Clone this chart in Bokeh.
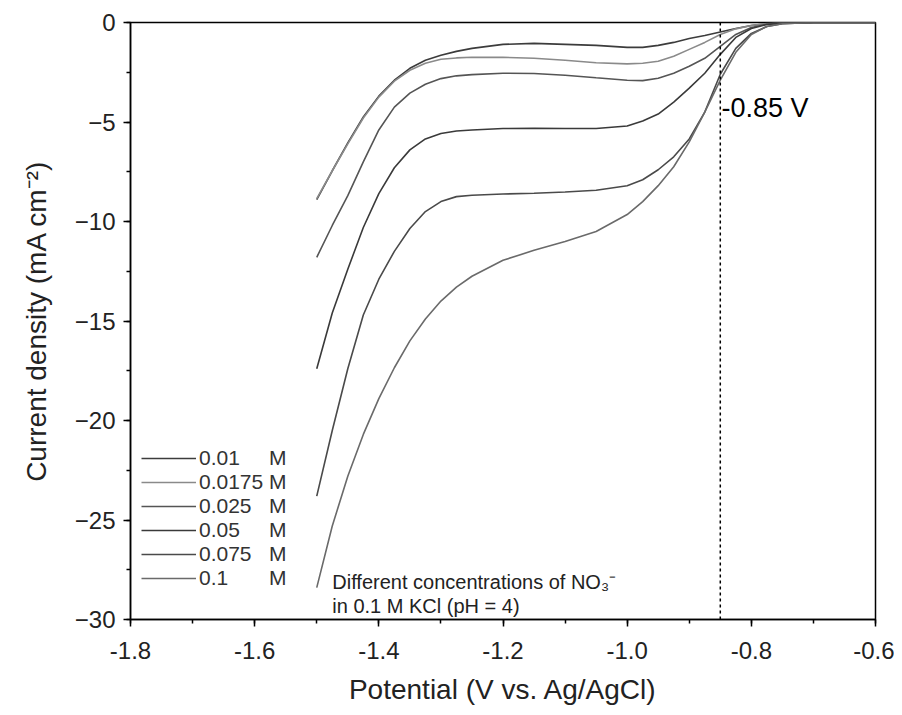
from bokeh.plotting import figure
from bokeh.models import (Legend, LegendItem, Span, Label, SingleIntervalTicker,
                          NumeralTickFormatter)
from bokeh.embed import file_html
from bokeh.resources import INLINE

# ---- data ----
potential = [-1.5, -1.475, -1.45, -1.425, -1.4, -1.375, -1.35, -1.325, -1.3, -1.275,
             -1.25, -1.2, -1.15, -1.1, -1.05, -1.0, -0.975, -0.95, -0.925, -0.9,
             -0.875, -0.85, -0.825, -0.8, -0.775, -0.75, -0.7, -0.65, -0.6]

j_0p01 = [-8.9, -7.45, -6.05, -4.75, -3.7, -2.9, -2.3, -1.9, -1.65, -1.45,
          -1.3, -1.1, -1.05, -1.1, -1.15, -1.25, -1.25, -1.15, -1.0, -0.8,
          -0.65, -0.48, -0.3, -0.15, -0.06, -0.02, 0.0, 0.0, 0.0]
j_0p0175 = [-8.85, -7.45, -6.1, -4.8, -3.75, -2.95, -2.4, -2.05, -1.85, -1.78,
            -1.75, -1.75, -1.8, -1.9, -2.02, -2.08, -2.05, -1.95, -1.7, -1.35,
            -1.0, -0.6, -0.32, -0.15, -0.05, -0.02, 0.0, 0.0, 0.0]
j_0p025 = [-11.8, -10.2, -8.7, -7.0, -5.4, -4.25, -3.55, -3.1, -2.82, -2.68,
           -2.62, -2.55, -2.56, -2.65, -2.78, -2.9, -2.92, -2.8, -2.55, -2.2,
           -1.8, -1.2, -0.6, -0.25, -0.08, -0.03, 0.0, 0.0, 0.0]
j_0p05 = [-17.4, -14.6, -12.4, -10.3, -8.6, -7.3, -6.4, -5.85, -5.58, -5.45,
          -5.4, -5.33, -5.32, -5.33, -5.33, -5.2, -4.95, -4.6, -4.0, -3.3,
          -2.55, -1.6, -0.75, -0.3, -0.1, -0.03, 0.0, 0.0, 0.0]
j_0p075 = [-23.8, -20.5, -17.4, -14.7, -12.9, -11.5, -10.35, -9.5, -9.0, -8.75,
           -8.68, -8.62, -8.58, -8.52, -8.43, -8.2, -7.9, -7.4, -6.75, -5.85,
           -4.5, -2.6, -1.3, -0.55, -0.2, -0.06, 0.0, 0.0, 0.0]
j_0p1 = [-28.4, -25.3, -22.8, -20.7, -18.9, -17.35, -16.0, -14.9, -14.0, -13.3,
         -12.75, -11.95, -11.45, -11.0, -10.5, -9.65, -9.0, -8.2, -7.25, -6.0,
         -4.5, -2.9, -1.5, -0.6, -0.2, -0.06, 0.0, 0.0, 0.0]

concentrations = ["0.01", "0.0175", "0.025", "0.05", "0.075", "0.1"]
series = [j_0p01, j_0p0175, j_0p025, j_0p05, j_0p075, j_0p1]
colors = ["#3c3c3c", "#8a8a8a", "#555555", "#3a3a3a", "#4a4a4a", "#6a6a6a"]

onset_potential = -0.85
onset_label = "-0.85 V"
note_line1 = "Different concentrations of NO\u2083\u207b"
note_line2 = "in 0.1 M KCl (pH = 4)"

FONT = "Liberation Sans"

p = figure(width=894, height=707, x_range=(-1.8, -0.6), y_range=(-30, 0),
           output_backend="svg", toolbar_location=None,
           min_border_left=130, min_border_right=19, min_border_top=22,
           min_border_bottom=87)

p.xgrid.visible = False
p.ygrid.visible = False
p.outline_line_color = "black"
p.outline_line_width = 1.5
p.background_fill_color = "white"
p.border_fill_color = "white"

items = []
for conc, ys, col in zip(concentrations, series, colors):
    r = p.line(potential, ys, line_color=col, line_width=1.6)
    pad = "\u2007" * (6 - len(conc))
    items.append(LegendItem(label=conc + pad + " M", renderers=[r]))

legend = Legend(items=items, location=(11, 29), border_line_color=None,
                background_fill_alpha=0, padding=0, margin=0, spacing=0,
                glyph_width=55, glyph_height=24, label_height=24,
                label_standoff=3, label_text_font=FONT,
                label_text_font_size="21px", label_text_color="#333333")
p.add_layout(legend, "center")

p.add_layout(Span(location=onset_potential, dimension="height",
                  line_color="black", line_width=1.5, line_dash="3 3"))

p.add_layout(Label(x=onset_potential + 0.002, y=-4.3, text=onset_label,
                   text_font=FONT, text_font_size="27px",
                   text_baseline="middle", text_color="black"))
p.add_layout(Label(x=-1.475, y=-28.1, text=note_line1, text_font=FONT,
                   text_font_size="20px", text_baseline="middle",
                   text_color="#222222"))
p.add_layout(Label(x=-1.475, y=-29.3, text=note_line2, text_font=FONT,
                   text_font_size="20px", text_baseline="middle",
                   text_color="#222222"))

# axes
p.xaxis.ticker = SingleIntervalTicker(interval=0.2, num_minor_ticks=2)
p.yaxis.ticker = SingleIntervalTicker(interval=5, num_minor_ticks=2)
p.xaxis.formatter = NumeralTickFormatter(format="0.0")
p.xaxis.axis_label = "Potential (V vs. Ag/AgCl)"
p.yaxis.axis_label = "Current density (mA cm\u207b\u00b2)"
for ax in (p.xaxis[0], p.yaxis[0]):
    ax.axis_line_color = "black"
    ax.axis_line_width = 1.5
    ax.major_tick_line_color = "black"
    ax.major_tick_line_width = 1.5
    ax.minor_tick_line_color = "black"
    ax.minor_tick_line_width = 1.5
    ax.major_tick_in = 0
    ax.major_tick_out = 7
    ax.minor_tick_in = 0
    ax.minor_tick_out = 4
    ax.major_label_text_font = FONT
    ax.major_label_text_font_size = "24px"
    ax.major_label_text_color = "#222222"
    ax.axis_label_text_font = FONT
    ax.axis_label_text_font_size = "28px"
    ax.axis_label_text_font_style = "normal"
    ax.axis_label_text_color = "#222222"
p.xaxis.major_label_standoff = 15
p.xaxis.axis_label_standoff = 12
p.yaxis.major_label_standoff = 8
p.yaxis.axis_label_standoff = 20

open("out.html", "w").write(file_html(p, INLINE))
